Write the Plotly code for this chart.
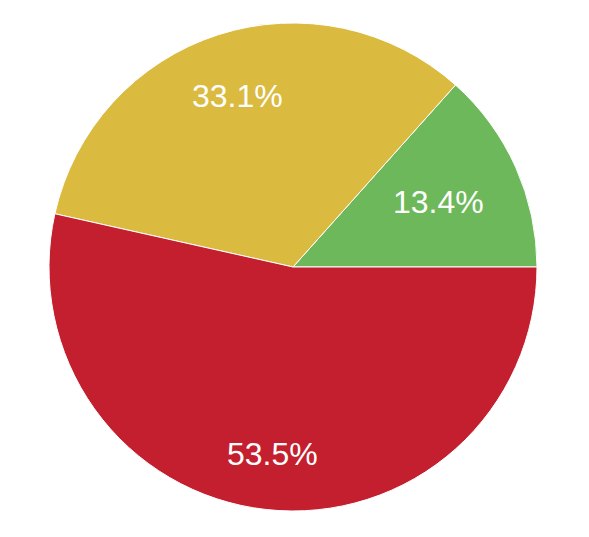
import math
import plotly.graph_objects as go

labels = ["Green", "Yellow", "Red"]
values = [13.4, 33.1, 53.5]
colors = ["#6db85a", "#dbba40", "#c41f2f"]

W, H = 589, 537
ML, MR, MT, MB = 41, 60, 15, 34
PW, PH = W - ML - MR, H - MT - MB
R = min(PW, PH) / 2  # pie radius in px

total = sum(values)
# first slice starts at 3 o'clock and slices run counterclockwise
rotation = 90 - 360 * values[0] / total

fig = go.Figure(go.Pie(
    labels=labels,
    values=values,
    marker=dict(colors=colors, line=dict(color="white", width=1)),
    sort=False,
    direction="counterclockwise",
    rotation=rotation,
    textinfo="none",
    hoverinfo="label+percent",
))

# labels placed along each slice's mid-angle so the text box sits inside ~0.84 R
FS = 32
half_w, half_h = 45, 12
start = 0.0
annotations = []
for v in values:
    frac = v / total
    mid = math.radians(360 * (start + frac / 2))  # counterclockwise from 3 o'clock
    start += frac
    c, s = math.cos(mid), math.sin(mid)
    extent = half_w * abs(c) + half_h * abs(s)
    d = 0.84 * R - extent
    annotations.append(dict(
        x=0.5 + d * c / PW, y=0.5 + d * s / PH,
        xref="paper", yref="paper",
        text=f"{100 * frac:.1f}%", showarrow=False,
        xanchor="center", yanchor="middle",
        font=dict(family="Liberation Sans, Arial, sans-serif", size=FS, color="white"),
    ))

fig.update_layout(
    width=W, height=H,
    margin=dict(l=ML, r=MR, t=MT, b=MB),
    showlegend=False,
    paper_bgcolor="white",
    plot_bgcolor="white",
    annotations=annotations,
)

fig.write_html("out.html")
